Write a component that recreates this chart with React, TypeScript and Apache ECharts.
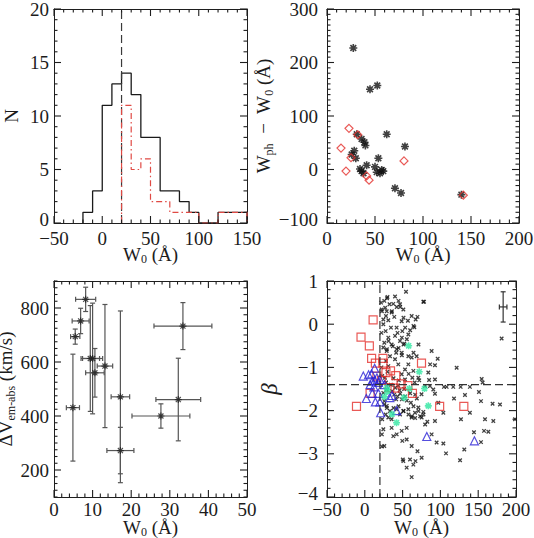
import React, { useEffect, useRef } from "react";
import * as echarts from "echarts";

// ---- Top-left: distribution of W0 ----
const histEdges = [-20, -10, 0, 10, 20, 30, 40, 50, 60, 70, 80, 90, 100, 110, 120, 130, 140, 150];
const histAll = [1, 3, 11, 13, 14, 12, 8, 8, 3, 3, 2, 1, 0, 0, 1, 1, 1];
const subEdges = [20, 30, 40, 50, 60, 70, 80, 90, 100, 110, 120, 130, 140, 150];
const histSub = [11, 5, 6, 2, 2, 1, 1, 1, 0, 0, 1, 1, 1];
const w0Cut = 20;

// ---- Top-right: Wph - W0 against W0 ----
const starPoints = [
  [27.4, 227], [44.8, 150], [52.4, 157], [62.2, 66], [81.2, 43], [31, 66], [36, 57], [39, 51],
  [40, 45], [28.4, 35], [25.7, 28], [30, 21], [53.5, 21], [41.3, 8], [50, 5], [34.4, 1], [36, -3],
  [38, -7], [51.8, -5], [55.2, -7], [58.6, -3], [57, -1], [70.8, -35], [77.1, -44], [140, -47],
];
const diamondPoints = [
  [22.9, 77], [32, 65], [14.6, 40], [25, 22], [19.8, -3], [41.3, -12], [43.8, -20], [80.2, 16], [142, -48],
];

// ---- Bottom-left: velocity offset against W0, with errors ----
const velW0 = [8.2, 6.9, 5.5, 4.9, 9.4, 10.0, 10.6, 13.2, 17.2, 17.2, 27.7, 32.2, 33.4];
const velW0Err = [2.6, 2.2, 1.2, 1.7, 2.4, 2.6, 2.4, 2.0, 2.4, 3.5, 7.5, 5.8, 7.5];
const velDV = [832, 752, 694, 431, 613, 613, 560, 585, 471, 272, 400, 461, 733];
const velDVErr = [45, 47, 28, 198, 196, 205, 90, 228, 318, 86, 45, 153, 87];

// ---- Bottom-right: beta against W0 ----
const betaAll = [
  [54.5, 0.75], [25.8, 0.54], [29.4, 0.6], [37.7, 0.47], [40, 0.64], [46.6, 0.46], [77.4, 0.52], [22.3, 0.34],
  [29, 0.3], [35.5, 0.27], [42.2, 0.4], [51, 0.34], [62, 0.19], [24.5, 0.11], [31.1, 0.09], [39, 0.17],
  [48.8, 0.07], [57, 0.08], [67.3, 0.11], [65.5, -0.07], [24.5, 0.0], [27.6, -0.16], [34.6, -0.08], [42.1, -0.08],
  [49.6, -0.16], [57.6, -0.24], [31.1, -0.31], [40, -0.27], [46.6, -0.39], [52.3, -0.45], [25.8, -0.43], [35.5, -0.47],
  [24.5, -0.54], [29, -0.62], [42.2, -0.58], [48.8, -0.66], [33.3, -0.74], [40, -0.81], [57.6, -0.74], [62, -0.77],
  [68.6, -0.74], [28, -0.85], [44.3, -0.93], [57.6, -0.93], [53.2, -1.05], [64.2, -1.08], [31.1, -0.97], [48.8, -1.16],
  [62.9, -1.24], [70.8, -1.24], [53.2, -1.28], [26.7, -1.24], [25.8, -1.78], [29, -1.89], [33.3, -2.01], [27.6, -2.09],
  [31.1, -2.16], [35.5, -2.2], [42.2, -1.97], [46.6, -2.09], [51, -2.01], [57.6, -1.97], [62, -2.16], [66.4, -2.05],
  [70.8, -1.93], [55.4, -2.4], [48.8, -2.47], [42.2, -2.55], [35.5, -2.4], [37.7, -2.59], [55.4, -2.67], [62, -2.82],
  [49.6, -2.7], [51, -3.17], [59.8, -3.13], [55.4, -3.32], [64.2, -3.25], [62, -3.54], [24.5, -2.43], [25.8, -2.82],
  [24.5, -1.59], [22.6, -2.55], [22.6, -2.83], [38.9, -1.63], [43.3, -1.67], [46.8, -1.61], [41.5, -1.74], [49, -1.74],
  [53.4, -1.67], [55.6, -1.77], [60.9, -1.82], [64.4, -1.9], [68.8, -1.72], [66.6, -1.63], [46, -1.53], [40.2, -1.47],
  [34.5, -1.4], [29.2, -1.51], [25.7, -1.86], [29.2, -1.94], [38, -1.94], [44.6, -1.9], [51.2, -2.01], [57.8, -2.09],
  [62.2, -2.13], [66.6, -2.17], [71, -2.01], [73.2, -2.13], [77.6, -2.09], [79.8, -2.32], [69.7, -2.94], [67, -3.17],
  [50.3, -3.13], [30, 0.63], [44.6, 0.54], [27, 0.38], [32.7, 0.46], [46.8, 0.4], [22.6, 0.3], [35.8, 0.3],
  [28, 0.19], [51.2, 0.15], [69.7, 0.17], [60, -0.14], [64.4, -0.04], [53.4, -0.08], [43.3, -0.2], [49, -0.31],
  [55.6, -0.35], [71, -0.47], [31.4, -0.39], [37.1, -0.51], [44.6, -0.55], [51.2, -0.47], [29.2, -0.58], [41.5, -0.66],
  [49, -0.72], [64.4, -0.66], [86.4, -0.93], [30, -1.1], [38, -1.25], [45, -1.3], [58, -1.15], [66, -1.35],
  [72, -1.3], [36, -1.55], [52, -1.5], [60, -1.6], [44, -1.42], [75, -1.62], [28, -1.35], [22, -1.0],
  [22, -0.2], [21.5, 0.5], [23, -2.2], [23, -1.2], [88.4, -0.62], [96.4, -0.8], [92.8, -0.95], [121.5, -1.01],
  [84, -1.12], [85, -1.29], [92.8, -1.28], [154.6, -1.27], [155.9, -1.35], [79.6, -1.43], [86.2, -1.43], [104.7, -1.45],
  [108.3, -1.45], [117, -1.45], [126.8, -1.45], [139, -1.45], [90.6, -1.51], [92.8, -1.61], [118, -1.72], [132.5, -1.64],
  [151, -1.57], [153.7, -1.78], [178.8, -1.86], [169, -1.84], [97.2, -1.82], [139, -2.05], [77.4, -2.03], [75.2, -2.16],
  [82.7, -2.26], [92.8, -2.24], [103.9, -2.05], [127.2, -2.2], [159, -2.2], [144.4, -2.5], [157.7, -2.47], [163.4, -2.49],
  [170, -2.24], [198.7, -2.2], [153.7, -2.73], [95, -2.74], [103.9, -2.76], [107.4, -2.99], [131.6, -2.9], [126, -3.15],
  [88.4, -2.55], [181, -0.33], [78.3, 0.52], [75.2, -3.09],
];
const betaSquares = [
  [11, 0.1], [-5, -0.3], [6, -0.5], [9, -0.79], [24, -0.79], [14, -0.9], [24, -0.9], [75, -0.9], [16, -1.2],
  [28, -1.12], [34, -1.08], [41, -1.19], [33, -1.47], [48, -1.38], [57, -1.42], [63, -1.6], [7, -1.6],
  [-11, -1.9], [99, -1.9], [131, -1.9], [40, -1.48], [22, -1.3],
];
const betaTriangles = [
  [-2, -1.2], [5, -1.17], [9, -1.15], [13, -1.02], [16, -1.24], [10, -1.32], [18, -1.35], [7, -1.4], [13, -1.3],
  [20, -1.28], [2, -1.72], [10, -1.6], [18, -1.6], [14, -1.8], [20, -1.8], [21, -2.05], [33, -1.7], [42, -2.0],
  [36, -1.65], [82, -2.6], [145, -2.7], [26, -1.4], [12, -1.45],
];
const betaStars = [
  [58, -0.5], [72, -1.1], [79, -1.49], [84, -1.89], [59, -1.49], [52, -1.7], [42, -2.28], [36, -2.08],
  [29, -1.47], [26, -1.68], [30, -1.55],
];
const betaTypicalErr = [[183, 0.4, 5, 0.35]];
const betaCut = -1.4;

const FONT = "'Liberation Serif', 'Times New Roman', serif";
const TXT = "#1c1c1c";
const AX = "#1e1e1e";
const ASTERISK = "path://M0,-5L0,5M-5,0L5,0M-3.6,-3.6L3.6,3.6M-3.6,3.6L3.6,-3.6";
const SMALLX = "path://M-1,-1L1,1M-1,1L1,-1";

const fmtNum = (v: number) => (v < 0 ? "\u2212" + Math.abs(v) : String(v));

// subscripts are pushed down with top padding while the line box stays tight
const richX = {
  w: { fontFamily: FONT, fontSize: 19, color: TXT, lineHeight: 16 },
  s: { fontFamily: FONT, fontSize: 12, color: TXT, lineHeight: 16, padding: [9, 0, 0, 0] },
};
const richY = {
  w: { fontFamily: FONT, fontSize: 19, color: TXT, lineHeight: 22 },
  s: { fontFamily: FONT, fontSize: 12, color: TXT, lineHeight: 8, verticalAlign: "bottom" },
  g: { fontFamily: FONT, fontSize: 23, color: TXT, fontStyle: "italic", lineHeight: 24 },
};

// the lowest y label sits a little above its tick
const yLabelRich = {
  n: { fontFamily: FONT, fontSize: 19, color: TXT },
  lo: { fontFamily: FONT, fontSize: 19, color: TXT, padding: [0, 0, 7, 0] },
};

const lineStyle = { color: AX, width: 1 };
const off = { show: false };

function xAxesFor(grid: number, min: number, max: number, interval: number, name: string, margin: number, nameGap: number) {
  const scale = {
    gridIndex: grid, type: "value", min, max, interval,
    splitLine: off, axisTick: off, minorTick: off,
    axisLine: { show: true, onZero: false, lineStyle },
  };
  return [
    {
      ...scale, position: "bottom",
      axisLabel: { show: true, margin, lineHeight: 13, fontFamily: FONT, fontSize: 19, color: TXT, formatter: fmtNum },
      name, nameLocation: "middle", nameGap, nameMoveOverlap: false,
      nameTextStyle: { rich: richX, verticalAlign: "top" },
    },
    { ...scale, position: "top", axisLabel: off },
  ];
}

function yAxesFor(
  grid: number, min: number, max: number, interval: number,
  name: string, nameGap: number, margin: number, fmt: (v: number) => string,
) {
  const scale = {
    gridIndex: grid, type: "value", min, max, interval,
    splitLine: off, axisTick: off, minorTick: off,
    axisLine: { show: true, onZero: false, lineStyle },
  };
  return [
    {
      ...scale, position: "left",
      axisLabel: {
        show: true, margin, fontFamily: FONT, fontSize: 19, color: TXT, rich: yLabelRich,
        formatter: (v: number) => {
          const t = fmt(v);
          if (t === "") return "";
          return v === min ? `{lo|${t}}` : `{n|${t}}`;
        },
      },
      name, nameLocation: "middle", nameGap, nameRotate: 90,
      nameTextStyle: { rich: richY },
    },
    { ...scale, position: "right", axisLabel: off },
  ];
}

// Inward major/minor tick marks on all four sides of a frame, drawn as thin
// rectangles anchored on the frame edge. xs / ys: [min, max, major, minor]
function frameTicks(axisIdx: number, xs: number[], ys: number[]) {
  const isMajor = (v: number, step: number) => Math.abs(v / step - Math.round(v / step)) < 1e-6;
  const w = 1.1;
  const items: any[] = [];
  const nx = Math.round((xs[1] - xs[0]) / xs[3]);
  for (let i = 0; i <= nx; i++) {
    const v = xs[0] + i * xs[3];
    const len = isMajor(v, xs[2]) ? 7 : 3.5;
    items.push({ value: [v, ys[0]], symbolSize: [w, len], symbolOffset: [0, -len / 2] });
    items.push({ value: [v, ys[1]], symbolSize: [w, len], symbolOffset: [0, len / 2] });
  }
  const ny = Math.round((ys[1] - ys[0]) / ys[3]);
  for (let i = 0; i <= ny; i++) {
    const v = ys[0] + i * ys[3];
    const len = isMajor(v, ys[2]) ? 7 : 3.5;
    items.push({ value: [xs[0], v], symbolSize: [len, w], symbolOffset: [len / 2, 0] });
    items.push({ value: [xs[1], v], symbolSize: [len, w], symbolOffset: [-len / 2, 0] });
  }
  return {
    type: "scatter", xAxisIndex: axisIdx, yAxisIndex: axisIdx,
    symbol: "rect", clip: false, silent: true, z: 4,
    itemStyle: { color: AX, opacity: 1 },
    emphasis: { disabled: true },
    data: items,
  };
}

function stepPoints(edges: number[], counts: number[]) {
  const pts: number[][] = [[edges[0], 0]];
  counts.forEach((c, i) => {
    pts.push([edges[i], c]);
    pts.push([edges[i + 1], c]);
  });
  pts.push([edges[edges.length - 1], 0]);
  return pts;
}

function errorBarItem(color: string, width: number, cap: number) {
  return (params: any, api: any) => {
    const x = api.value(0);
    const y = api.value(1);
    const ex = api.value(2);
    const ey = api.value(3);
    const l = api.coord([x - ex, y]);
    const r = api.coord([x + ex, y]);
    const t = api.coord([x, y + ey]);
    const b = api.coord([x, y - ey]);
    const style = { stroke: color, lineWidth: width };
    const seg = (x1: number, y1: number, x2: number, y2: number) => ({
      type: "line", shape: { x1, y1, x2, y2 }, style,
    });
    return {
      type: "group",
      children: [
        seg(l[0], l[1], r[0], r[1]),
        seg(t[0], t[1], b[0], b[1]),
        seg(l[0], l[1] - cap, l[0], l[1] + cap),
        seg(r[0], r[1] - cap, r[0], r[1] + cap),
        seg(t[0] - cap, t[1], t[0] + cap, t[1]),
        seg(b[0] - cap, b[1], b[0] + cap, b[1]),
      ],
    };
  };
}

const nameW0 = "{w|W}{s|0}{w| (Å)}";
const nameWph = "{w|W}{s|ph}{w|  \u2212  W}{s|0}{w| (Å)}";
const nameDV = "{w|\u0394V}{s|em\u2011abs}{w| (km/s)}";
const nameBeta = "{g|\u03B2}";

const gridBase = { containLabel: false, outerBoundsMode: "none" };

function buildOption() {
  const velData = velW0.map((x, i) => [x, velDV[i], velW0Err[i], velDVErr[i]]);
  return {
    animation: false,
    backgroundColor: "#ffffff",
    grid: [
      { ...gridBase, left: 54, top: 9, width: 193, height: 214 },
      { ...gridBase, left: 327, top: 9, width: 192, height: 214 },
      { ...gridBase, left: 54, top: 281, width: 193, height: 216 },
      { ...gridBase, left: 327, top: 281, width: 189, height: 216 },
    ],
    xAxis: [
      ...xAxesFor(0, -50, 150, 50, nameW0, 9, 23),
      ...xAxesFor(1, 0, 200, 50, nameW0, 9, 23),
      ...xAxesFor(2, 0, 50, 10, nameW0, 6, 22),
      ...xAxesFor(3, -50, 200, 50, nameW0, 6, 22),
    ],
    yAxis: [
      ...yAxesFor(0, 0, 20, 5, "{w|N}", 32, 5, fmtNum),
      ...yAxesFor(1, -100, 300, 100, nameWph, 39, 9, fmtNum),
      ...yAxesFor(2, 100, 900, 100, nameDV, 32, 5, (v: number) => (v % 200 === 0 ? String(v) : "")),
      ...yAxesFor(3, -4, 1, 1, nameBeta, 46, 9, fmtNum),
    ],
    series: [
      // top-left histograms
      {
        type: "line", xAxisIndex: 0, yAxisIndex: 0, symbol: "none",
        data: stepPoints(histEdges, histAll),
        lineStyle: { color: "#1a1a1a", width: 1.3 },
      },
      {
        type: "line", xAxisIndex: 0, yAxisIndex: 0, symbol: "none",
        data: [[w0Cut, 0], [w0Cut, 20]],
        lineStyle: { color: "#3a3a3a", width: 1.2, type: [8, 4] },
      },
      {
        type: "line", xAxisIndex: 0, yAxisIndex: 0, symbol: "none",
        data: stepPoints(subEdges, histSub),
        lineStyle: { color: "#e04a44", width: 1.2, type: [6, 3, 1.5, 3] },
      },
      // top-right scatter
      {
        type: "scatter", xAxisIndex: 2, yAxisIndex: 2, symbol: ASTERISK, symbolSize: 8,
        data: starPoints,
        itemStyle: { color: "rgba(0,0,0,0)", borderColor: "#111", borderWidth: 1.6 },
      },
      {
        type: "scatter", xAxisIndex: 2, yAxisIndex: 2, symbol: "diamond", symbolSize: 8,
        data: diamondPoints,
        itemStyle: { color: "rgba(0,0,0,0)", borderColor: "#e3302c", borderWidth: 1.2 },
      },
      // bottom-left error bars
      {
        type: "custom", coordinateSystem: "cartesian2d", xAxisIndex: 4, yAxisIndex: 4,
        data: velData, encode: { x: 0, y: 1 },
        renderItem: errorBarItem("#555", 1.2, 2.5),
      },
      {
        type: "scatter", xAxisIndex: 4, yAxisIndex: 4, symbol: ASTERISK, symbolSize: 7,
        data: velData.map((d) => [d[0], d[1]]),
        itemStyle: { color: "rgba(0,0,0,0)", borderColor: "#222", borderWidth: 1.2 },
      },
      // bottom-right beta
      {
        type: "scatter", xAxisIndex: 6, yAxisIndex: 6, symbol: SMALLX, symbolSize: 3.5,
        data: betaAll,
        itemStyle: { color: "rgba(0,0,0,0)", borderColor: "#111", borderWidth: 1.3 },
      },
      {
        type: "scatter", xAxisIndex: 6, yAxisIndex: 6, symbol: "rect", symbolSize: 8,
        data: betaSquares,
        itemStyle: { color: "rgba(0,0,0,0)", borderColor: "#e3302c", borderWidth: 1.2 },
      },
      {
        type: "scatter", xAxisIndex: 6, yAxisIndex: 6, symbol: "triangle", symbolSize: 8,
        data: betaTriangles,
        itemStyle: { color: "rgba(0,0,0,0)", borderColor: "#2b22d6", borderWidth: 1.2 },
      },
      {
        type: "scatter", xAxisIndex: 6, yAxisIndex: 6, symbol: ASTERISK, symbolSize: 7,
        data: betaStars,
        itemStyle: { color: "rgba(0,0,0,0)", borderColor: "#2ee6a0", borderWidth: 1.6 },
      },
      {
        type: "line", xAxisIndex: 6, yAxisIndex: 6, symbol: "none",
        data: [[w0Cut, -4], [w0Cut, 1]],
        lineStyle: { color: "#333", width: 1.2, type: [8, 4] },
      },
      {
        type: "line", xAxisIndex: 6, yAxisIndex: 6, symbol: "none",
        data: [[-50, betaCut], [200, betaCut]],
        lineStyle: { color: "#333", width: 1.2, type: [8, 4] },
      },
      {
        type: "custom", coordinateSystem: "cartesian2d", xAxisIndex: 6, yAxisIndex: 6,
        data: betaTypicalErr, encode: { x: 0, y: 1 },
        renderItem: errorBarItem("#333", 1.2, 2.5),
      },
      frameTicks(0, [-50, 150, 50, 10], [0, 20, 5, 1]),
      frameTicks(2, [0, 200, 50, 10], [-100, 300, 100, 10]),
      frameTicks(4, [0, 50, 10, 2], [100, 900, 200, 25]),
      frameTicks(6, [-50, 200, 50, 10], [-4, 1, 1, 0.2]),
    ],
  };
}

export default function App() {
  const ref = useRef<HTMLDivElement>(null);
  useEffect(() => {
    const chart = echarts.init(ref.current!, null, { renderer: "svg" });
    chart.setOption(buildOption() as any);
    return () => chart.dispose();
  }, []);
  return (
    <div
      ref={ref}
      style={{ position: "fixed", left: 0, top: 0, width: 534, height: 538, background: "#fff" }}
    />
  );
}
